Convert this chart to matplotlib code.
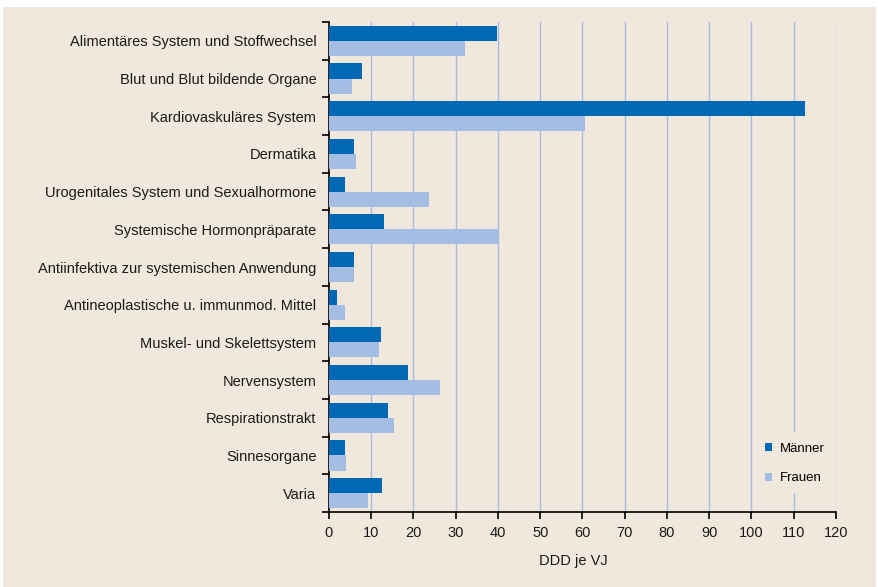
import matplotlib.pyplot as plt
import matplotlib.patches as mpatches
import numpy as np

plt.rcParams['font.family'] = ['Liberation Sans', 'DejaVu Sans']

# Daten (DDD je VJ)
kategorien = [
    'Alimentäres System und Stoffwechsel',
    'Blut und Blut bildende Organe',
    'Kardiovaskuläres System',
    'Dermatika',
    'Urogenitales System und Sexualhormone',
    'Systemische Hormonpräparate',
    'Antiinfektiva zur systemischen Anwendung',
    'Antineoplastische u. immunmod. Mittel',
    'Muskel- und Skelettsystem',
    'Nervensystem',
    'Respirationstrakt',
    'Sinnesorgane',
    'Varia',
]
maenner = [39.7, 7.7, 112.6, 5.8, 3.9, 12.9, 5.8, 2.0, 12.2, 18.6, 13.9, 3.9, 12.6]
frauen = [32.1, 5.4, 60.5, 6.3, 23.6, 40.2, 5.8, 3.7, 11.8, 26.2, 15.5, 4.1, 9.3]
x_ticks = list(range(0, 121, 10))

BG = '#F0E8DC'
C_M = '#0068B4'
C_F = '#A4BDE3'
GRID = '#A4BDE3'

fig = plt.figure(figsize=(8.79, 5.87), dpi=100, facecolor='white')
fig.patches.append(mpatches.Rectangle((3 / 879, 0), 873 / 879, 1 - 7 / 587,
                                      transform=fig.transFigure, facecolor=BG,
                                      edgecolor='none', zorder=-10))

ax = fig.add_axes([329 / 879, 1 - 512 / 587, 507 / 879, 490 / 587])
ax.set_facecolor('none')

n = len(kategorien)
y = np.arange(n)
h = 0.4
ax.barh(y - h / 2, maenner, height=h, color=C_M, label='Männer', zorder=3)
ax.barh(y + h / 2, frauen, height=h, color=C_F, label='Frauen', zorder=3)

ax.set_ylim(n - 0.5, -0.5)
ax.set_xlim(0, 120)
ax.set_xticks(x_ticks)
ax.set_yticks(y)
ax.set_yticklabels(kategorien, fontsize=10.5, color='#1a1a1a')
ax.set_yticks(np.arange(-0.5, n, 1), minor=True)
ax.tick_params(axis='y', which='major', length=0, pad=9)
ax.tick_params(axis='y', which='minor', length=5, width=1.2, direction='out')
ax.tick_params(axis='x', length=5, width=1.2, direction='out', labelsize=10.5,
               labelcolor='#1a1a1a', pad=5)

for v in x_ticks[1:]:
    ax.axvline(v, color=GRID, linewidth=1, zorder=1)

for s in ['top', 'right']:
    ax.spines[s].set_visible(False)
for s in ['left', 'bottom']:
    ax.spines[s].set_linewidth(1.2)
    ax.spines[s].set_color('black')

ax.set_xlabel('DDD je VJ', fontsize=10.5, color='#1a1a1a', labelpad=10)
ax.xaxis.set_label_coords(0.482, -0.085)

# Legendenhintergrund (verdeckt nur die 110er-Gitterlinie)
ax.add_patch(mpatches.Rectangle((0.840, 0.039), 0.152, 0.124, transform=ax.transAxes,
                                facecolor=BG, edgecolor='none', zorder=4))
leg = ax.legend(loc='upper left', bbox_to_anchor=(0.846, 0.155), frameon=False,
                fontsize=9.5, handlelength=0.55, handleheight=0.55,
                labelspacing=1.35, borderpad=0, handletextpad=0.6)
leg.set_zorder(5)

fig.savefig('out.png', dpi=100, facecolor=fig.get_facecolor())
